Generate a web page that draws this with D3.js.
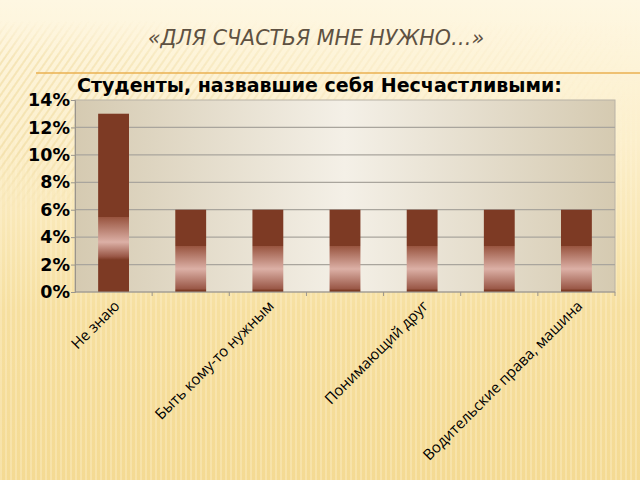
<!DOCTYPE html>
<html>
<head>
<meta charset="utf-8">
<script src="https://cdn.jsdelivr.net/npm/d3@7"></script>
<style>
  body { margin: 0; background: #fbeec8; }
  svg { display: block; }
</style>
</head>
<body>
<div id="chart"></div>
<script>
// data
const categories = ["Не знаю", "", "Быть кому-то нужным", "", "Понимающий друг", "", "Водительские права, машина"];
const values = [0.13, 0.06, 0.06, 0.06, 0.06, 0.06, 0.06];
const yTicks = [0, 0.02, 0.04, 0.06, 0.08, 0.10, 0.12, 0.14];

const slideTitle = "«ДЛЯ СЧАСТЬЯ МНЕ НУЖНО…»";
const chartTitle = "Студенты, назвавшие себя Несчастливыми:";

const W = 640, H = 480;
const plot = { left: 75, right: 615, top: 100, bottom: 292 };

const svg = d3.select("#chart").append("svg")
    .attr("width", W)
    .attr("height", H);

const defs = svg.append("defs");

function gradient(id, vertical, stops) {
    const g = defs.append("linearGradient").attr("id", id)
        .attr("x1", 0).attr("y1", 0)
        .attr("x2", vertical ? 0 : 1).attr("y2", vertical ? 1 : 0);
    stops.forEach(([o, c, a]) => g.append("stop")
        .attr("offset", o).attr("stop-color", c).attr("stop-opacity", a === undefined ? 1 : a));
    return g;
}

// slide background
gradient("bg", true, [[0, "#fef7e2"], [0.3, "#fcefcb"], [0.65, "#f6df9f"], [1, "#f4da93"]]);

const vstripes = defs.append("pattern").attr("id", "vstripes")
    .attr("patternUnits", "userSpaceOnUse").attr("width", 5).attr("height", 10);
vstripes.append("rect").attr("width", 2).attr("height", 10).attr("fill", "#fff6dc").attr("opacity", 0.3);

const dstripes = defs.append("pattern").attr("id", "dstripes")
    .attr("patternUnits", "userSpaceOnUse").attr("width", 6).attr("height", 6)
    .attr("patternTransform", "rotate(35)");
dstripes.append("rect").attr("width", 2).attr("height", 6).attr("fill", "#ecd38f").attr("opacity", 0.45);

gradient("fade", true, [[0, "#fff", 0], [0.35, "#fff", 1], [1, "#fff", 1]]);
defs.append("mask").attr("id", "vmask")
    .append("rect").attr("width", W).attr("height", H).attr("fill", "url(#fade)");

gradient("dfade", false, [[0, "#fff", 1], [0.5, "#fff", 0.4], [1, "#fff", 0]]);
gradient("dvfade", true, [[0, "#fff", 0], [0.2, "#fff", 1], [0.7, "#fff", 1], [1, "#fff", 0]]);
defs.append("mask").attr("id", "dmask")
    .append("rect").attr("x", 0).attr("y", 20).attr("width", W).attr("height", 190).attr("fill", "url(#dfade)");
defs.append("mask").attr("id", "dvmask")
    .append("rect").attr("x", 0).attr("y", 20).attr("width", W).attr("height", 190).attr("fill", "url(#dvfade)");

svg.append("rect").attr("width", W).attr("height", H).attr("fill", "url(#bg)");
svg.append("rect").attr("width", W).attr("height", H).attr("fill", "url(#vstripes)").attr("mask", "url(#vmask)");
svg.append("g").attr("mask", "url(#dmask)")
    .append("g").attr("mask", "url(#dvmask)")
    .append("rect").attr("x", 0).attr("y", 20).attr("width", W).attr("height", 190)
    .attr("fill", "url(#dstripes)");

// slide title + rule
svg.append("text")
    .attr("x", 316).attr("y", 45)
    .attr("text-anchor", "middle")
    .attr("font-family", "DejaVu Sans")
    .attr("font-style", "italic")
    .attr("font-size", 20.5)
    .attr("fill", "#5e5142")
    .text(slideTitle);

svg.append("line")
    .attr("x1", 36).attr("x2", W).attr("y1", 73).attr("y2", 73)
    .attr("stroke", "#eab050").attr("stroke-width", 1.5);

// plot area background
gradient("plotbg", false, [[0, "#d5cab1"], [0.5, "#f4f0e7"], [1, "#d5cab1"]]);

svg.append("rect")
    .attr("x", plot.left).attr("y", plot.top)
    .attr("width", plot.right - plot.left).attr("height", plot.bottom - plot.top)
    .attr("fill", "url(#plotbg)")
    .attr("stroke", "#b8b2a6");

const x = d3.scaleBand()
    .domain(d3.range(categories.length))
    .range([plot.left, plot.right])
    .paddingInner(0.6)
    .paddingOuter(0.3);

const y = d3.scaleLinear()
    .domain([0, 0.14])
    .range([plot.bottom, plot.top]);

// gridlines
svg.append("g")
    .selectAll("line")
    .data(yTicks.slice(1, -1))
    .join("line")
    .attr("x1", plot.left).attr("x2", plot.right)
    .attr("y1", d => y(d)).attr("y2", d => y(d))
    .attr("stroke", "#a9a59d").attr("stroke-width", 1.2);

// y axis labels
const yAxis = d3.axisLeft(y).tickValues(yTicks).tickFormat(d3.format(".0%")).tickSize(4);
svg.append("g")
    .attr("transform", `translate(${plot.left},0)`)
    .call(yAxis)
    .call(g => g.select(".domain").attr("stroke", "#9a958c"))
    .call(g => g.selectAll(".tick line").attr("stroke", "#9a958c"))
    .call(g => g.selectAll("text")
        .attr("font-family", "DejaVu Sans")
        .attr("font-weight", "bold")
        .attr("font-size", 17.5)
        .attr("fill", "#000")
        .attr("dx", 2));

// bar gradients: dark brown with a pale reflective band
function barGradient(id, a, m, b) {
    gradient(id, true, [[a, "#7d3a24"], [a, "#98543f"], [m, "#dcb0a6"], [b - 0.02, "#9a5847"], [b, "#7d3a24"]]);
}
barGradient("barTall", 0.58, 0.72, 0.82);
barGradient("barShort", 0.44, 0.72, 0.98);

svg.append("g")
    .selectAll("rect")
    .data(values)
    .join("rect")
    .attr("x", (d, i) => x(i))
    .attr("y", d => y(d))
    .attr("width", x.bandwidth())
    .attr("height", d => y(0) - y(d))
    .attr("fill", d => d > 0.1 ? "url(#barTall)" : "url(#barShort)");

// x axis: ticks between categories
const step = x.step();
svg.append("g")
    .selectAll("line")
    .data(d3.range(1, categories.length + 1))
    .join("line")
    .attr("x1", i => plot.left + i * step).attr("x2", i => plot.left + i * step)
    .attr("y1", plot.bottom).attr("y2", plot.bottom + 4)
    .attr("stroke", "#9a958c");

svg.append("line")
    .attr("x1", plot.left).attr("x2", plot.right)
    .attr("y1", plot.bottom).attr("y2", plot.bottom)
    .attr("stroke", "#9a958c");

svg.append("g")
    .selectAll("text")
    .data(categories.map((c, i) => ({ c, i })).filter(d => d.c))
    .join("text")
    .attr("transform", d => `translate(${x(d.i) + x.bandwidth() / 2 + 7},${plot.bottom + 15}) rotate(-45)`)
    .attr("text-anchor", "end")
    .attr("font-family", "Open Sans")
    .attr("font-size", 15)
    .attr("fill", "#000")
    .text(d => d.c);

// chart title
svg.append("text")
    .attr("x", 77).attr("y", 92)
    .attr("font-family", "DejaVu Sans")
    .attr("font-weight", "bold")
    .attr("font-size", 19)
    .attr("fill", "#000")
    .text(chartTitle);
</script>
</body>
</html>
